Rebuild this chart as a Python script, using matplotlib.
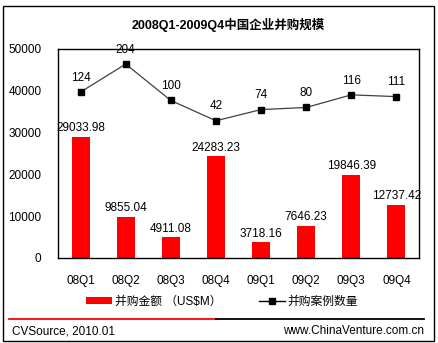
import matplotlib
matplotlib.use("Agg")
import matplotlib.pyplot as plt
from matplotlib.patches import Rectangle, Patch
from matplotlib.lines import Line2D

plt.rcParams['font.family'] = ['Liberation Sans', 'Noto Sans CJK SC']

quarters = ["08Q1", "08Q2", "08Q3", "08Q4", "09Q1", "09Q2", "09Q3", "09Q4"]
amount = [29033.98, 9855.04, 4911.08, 24283.23, 3718.16, 7646.23, 19846.39, 12737.42]
deals = [124, 204, 100, 42, 74, 80, 116, 111]
yticks = [0, 10000, 20000, 30000, 40000, 50000]

W, H = 439, 343
fig = plt.figure(figsize=(W / 100, H / 100), dpi=100)
fig.patch.set_facecolor("white")

# outer frame
fig.patches.append(Rectangle((3 / W, 1 - 341 / H), 431 / W, 335 / H, transform=fig.transFigure,
                             fill=False, edgecolor="black", linewidth=1))

ax = fig.add_axes([58 / W, 1 - 258 / H, 361 / W, 209 / H])
x = list(range(len(quarters)))
ax.bar(x, amount, width=0.4, color="#ff0000")
ax.set_xlim(-0.5, len(quarters) - 0.5)
ax.set_ylim(0, 50000)
ax.set_yticks(yticks)
ax.set_yticklabels([str(t) for t in yticks])
ax.set_xticks(x)
ax.set_xticklabels(quarters)
ax.tick_params(length=0, labelsize=8.5)
ax.tick_params(axis="y", pad=12)
ax.tick_params(axis="x", pad=12)
for s in ax.spines.values():
    s.set_linewidth(1)
for i, v in enumerate(amount):
    ax.annotate(f"{v:.2f}", (i, v), xytext=(0, 2), textcoords="offset points",
                ha="center", va="bottom", fontsize=8.5)

ax2 = ax.twinx()
ax2.plot(x, deals, color="#404040", linewidth=0.9, marker="s", markersize=4.5,
         markerfacecolor="black", markeredgecolor="black")
ax2.set_ylim(-350, 247)
ax2.set_yticks([])
for s in ax2.spines.values():
    s.set_visible(False)
for i, v in enumerate(deals):
    ax2.annotate(str(v), (i, v), xytext=(0, 6), textcoords="offset points",
                 ha="center", va="bottom", fontsize=8.5)

fig.text(228 / W, 1 - 25 / H, "2008Q1-2009Q4中国企业并购规模", ha="center", va="center",
         fontsize=9, fontweight="bold", family=["Liberation Sans", "Noto Sans CJK SC"])

handles = [Patch(facecolor="#ff0000", edgecolor="none"),
           Line2D([], [], color="black", linewidth=1, marker="s", markersize=4.5)]
fig.legend(handles, ["并购金额 （US$M）", "并购案例数量"], loc="center",
           bbox_to_anchor=(222 / W, 1 - 302 / H), ncol=2, frameon=False, fontsize=8.5,
           handlelength=2.2, handleheight=0.5, handletextpad=0.2, columnspacing=3.2)

# footer
fig.add_artist(Line2D([9 / W, 216 / W], [1 - 319 / H] * 2, color="#ff0000", linewidth=1.3,
                      transform=fig.transFigure))
fig.add_artist(Line2D([216 / W, 424 / W], [1 - 319 / H] * 2, color="black", linewidth=1.3,
                      transform=fig.transFigure))
fig.text(12 / W, 1 - 331 / H, "CVSource, 2010.01", ha="left", va="center", fontsize=8.5)
fig.text(424 / W, 1 - 331 / H, "www.ChinaVenture.com.cn", ha="right", va="center", fontsize=8.5)

fig.savefig("out.png", dpi=100)
